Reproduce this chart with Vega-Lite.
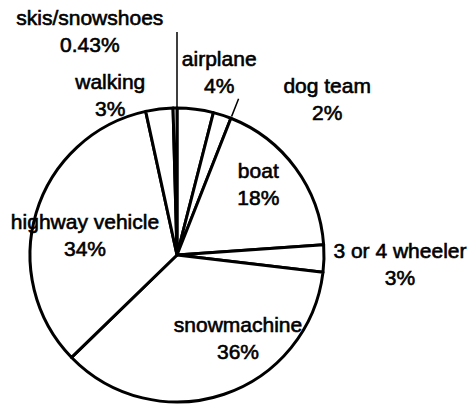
{
  "$schema": "https://vega.github.io/schema/vega-lite/v6.json",
  "width": 296,
  "height": 296,
  "autosize": {"type": "none"},
  "padding": {"left": 29, "top": 107, "right": 147, "bottom": 2},
  "background": "white",
  "config": {"view": {"stroke": null}},
  "data": {
    "values": [
      {"category": "airplane", "pct": 4, "order": 1},
      {"category": "dog team", "pct": 2, "order": 2},
      {"category": "boat", "pct": 18, "order": 3},
      {"category": "3 or 4 wheeler", "pct": 3, "order": 4},
      {"category": "snowmachine", "pct": 36, "order": 5},
      {"category": "highway vehicle", "pct": 34, "order": 6},
      {"category": "walking", "pct": 3, "order": 7},
      {"category": "skis/snowshoes", "pct": 0.43, "order": 8}
    ]
  },
  "layer": [
    {
      "mark": {"type": "arc", "outerRadius": 147, "fill": "white", "stroke": "black", "strokeWidth": 3, "strokeJoin": "round"},
      "encoding": {
        "theta": {"field": "pct", "type": "quantitative", "stack": true, "scale": {"domain": [0, 100.43]}},
        "order": {"field": "order", "type": "quantitative", "sort": "ascending"}
      }
    },
    {
      "transform": [
        {"stack": "pct", "groupby": [], "sort": [{"field": "order", "order": "ascending"}], "as": ["s0", "s1"]},
        {"filter": "datum.category == 'skis/snowshoes'"}
      ],
      "mark": {"type": "arc", "innerRadius": 148, "outerRadius": 223, "stroke": "black", "strokeWidth": 1.5, "fill": null},
      "encoding": {
        "theta": {"field": "s1", "type": "quantitative"},
        "theta2": {"field": "s1"}
      }
    },
    {
      "transform": [
        {"stack": "pct", "groupby": [], "sort": [{"field": "order", "order": "ascending"}], "as": ["s0", "s1"]},
        {"filter": "datum.category == 'dog team'"}
      ],
      "mark": {"type": "arc", "innerRadius": 149, "outerRadius": 168, "stroke": "black", "strokeWidth": 1.5, "fill": null},
      "encoding": {
        "theta": {"field": "s1", "type": "quantitative"},
        "theta2": {"field": "s1"}
      }
    },
    {
      "mark": {
        "type": "text",
        "font": "Liberation Sans",
        "fontSize": 21,
        "lineHeight": 27,
        "lineBreak": "\n",
        "align": "center",
        "baseline": "middle",
        "color": "black",
        "stroke": "black",
        "strokeWidth": 0.6,
        "text": {"expr": "datum.category + '\\n' + datum.pct + '%'"},
        "radius": {"expr": "{'airplane': 186, 'dog team': 215, 'boat': 107, '3 or 4 wheeler': 223, 'snowmachine': 103, 'highway vehicle': 94, 'walking': 172, 'skis/snowshoes': 239}[datum.category]"},
        "dx": {"expr": "{'airplane': 19, 'dog team': 84, 'boat': -5, '3 or 4 wheeler': 0, 'snowmachine': 28, 'highway vehicle': -2, 'walking': -46, 'skis/snowshoes': -84}[datum.category]"},
        "dy": {"expr": "{'airplane': -10, 'dog team': 37, 'boat': -20, '3 or 4 wheeler': -8, 'snowmachine': -27, 'highway vehicle': -5, 'walking': -1, 'skis/snowshoes': 3}[datum.category]"}
      },
      "encoding": {
        "theta": {"field": "pct", "type": "quantitative", "stack": true},
        "order": {"field": "order", "type": "quantitative", "sort": "ascending"}
      }
    }
  ]
}
